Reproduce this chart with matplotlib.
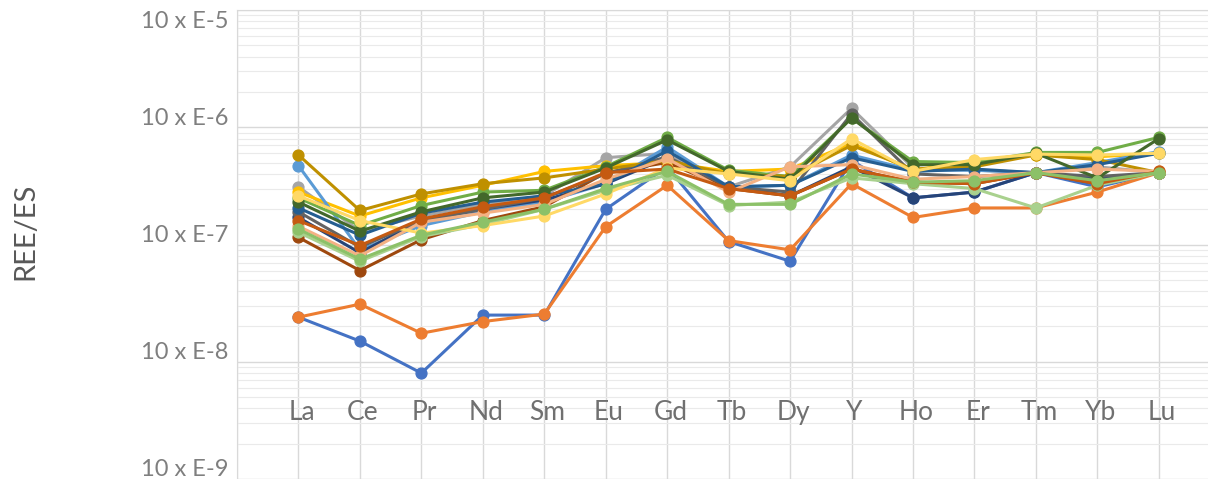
import matplotlib
matplotlib.use("Agg")
import matplotlib.pyplot as plt
import matplotlib.transforms as mtransforms
from matplotlib.ticker import LogLocator, NullFormatter

plt.rcParams['font.family'] = ['Lato', 'DejaVu Sans']

cats = ["La", "Ce", "Pr", "Nd", "Sm", "Eu", "Gd", "Tb", "Dy", "Y", "Ho", "Er", "Tm", "Yb", "Lu"]

# REE/ES per sample
s1 = [2.4e-8, 1.5e-8, 8.0e-9, 2.5e-8, 2.5e-8, 2.0e-7, 4.6e-7, 1.06e-7, 7.2e-8, 5.2e-7, 2.5e-7, 2.8e-7, 4.1e-7, 3.1e-7, 4.1e-7]
s2 = [2.4e-8, 3.1e-8, 1.75e-8, 2.2e-8, 2.55e-8, 1.42e-7, 3.2e-7, 1.08e-7, 9.0e-8, 3.3e-7, 1.7e-7, 2.05e-7, 2.05e-7, 2.8e-7, 4.1e-7]
s3 = [3.1e-7, 1.3e-7, 1.75e-7, 2.2e-7, 2.6e-7, 5.5e-7, 6.0e-7, 3.1e-7, 4.6e-7, 1.45e-6, 4.5e-7, 4.3e-7, 4.1e-7, 4.6e-7, 4.1e-7]
s4 = [2.8e-7, 1.75e-7, 2.5e-7, 3.2e-7, 4.2e-7, 4.7e-7, 5.0e-7, 4.2e-7, 4.4e-7, 7.3e-7, 4.3e-7, 5.2e-7, 5.8e-7, 5.6e-7, 6.0e-7]
s5 = [4.7e-7, 9.0e-8, 1.45e-7, 1.9e-7, 2.3e-7, 3.3e-7, 6.8e-7, 3.1e-7, 3.2e-7, 5.8e-7, 4.3e-7, 4.3e-7, 4.1e-7, 5.0e-7, 6.2e-7]
s6 = [2.5e-7, 1.45e-7, 2.15e-7, 2.8e-7, 2.9e-7, 4.6e-7, 8.2e-7, 4.3e-7, 3.8e-7, 1.2e-6, 5.1e-7, 5.0e-7, 6.1e-7, 6.1e-7, 8.2e-7]
s7 = [1.7e-7, 8.5e-8, 1.6e-7, 2.0e-7, 2.4e-7, 3.3e-7, 5.5e-7, 3.1e-7, 2.6e-7, 4.6e-7, 2.5e-7, 2.8e-7, 4.1e-7, 3.6e-7, 4.1e-7]
s8 = [1.15e-7, 6.0e-8, 1.1e-7, 1.6e-7, 2.1e-7, 4.1e-7, 5.0e-7, 3.0e-7, 2.6e-7, 4.4e-7, 3.4e-7, 3.3e-7, 4.1e-7, 3.3e-7, 4.1e-7]
s9 = [1.9e-7, 9.5e-8, 1.6e-7, 2.0e-7, 2.5e-7, 4.0e-7, 5.6e-7, 3.1e-7, 2.8e-7, 1.3e-6, 4.0e-7, 3.8e-7, 4.1e-7, 3.8e-7, 4.1e-7]
s10 = [5.8e-7, 1.95e-7, 2.7e-7, 3.3e-7, 3.7e-7, 4.4e-7, 5.2e-7, 4.0e-7, 3.8e-7, 7.0e-7, 4.4e-7, 4.6e-7, 5.8e-7, 5.3e-7, 4.1e-7]
s11 = [2.05e-7, 1.2e-7, 1.85e-7, 2.3e-7, 2.6e-7, 3.3e-7, 6.3e-7, 3.1e-7, 3.2e-7, 5.5e-7, 4.2e-7, 4.4e-7, 4.1e-7, 4.8e-7, 6.0e-7]
s12 = [2.3e-7, 1.3e-7, 1.9e-7, 2.5e-7, 2.8e-7, 4.5e-7, 7.8e-7, 4.2e-7, 3.6e-7, 1.2e-6, 4.8e-7, 4.8e-7, 6.0e-7, 3.7e-7, 8.0e-7]
s13 = [1.43e-7, 8.0e-8, 1.55e-7, 1.85e-7, 2.2e-7, 3.6e-7, 5.4e-7, 2.8e-7, 4.6e-7, 4.8e-7, 3.6e-7, 3.8e-7, 4.1e-7, 4.4e-7, 4.2e-7]
s14 = [1.27e-7, 7.2e-8, 1.17e-7, 1.48e-7, 2.0e-7, 2.9e-7, 3.9e-7, 2.15e-7, 2.3e-7, 3.7e-7, 3.3e-7, 3.0e-7, 2.05e-7, 3.2e-7, 4.1e-7]
s15 = [2.6e-7, 1.6e-7, 1.25e-7, 1.45e-7, 1.75e-7, 2.7e-7, 4.5e-7, 4.0e-7, 3.5e-7, 8.0e-7, 4.2e-7, 5.3e-7, 5.9e-7, 5.8e-7, 6.0e-7]
s16 = [1.6e-7, 9.8e-8, 1.65e-7, 2.1e-7, 2.5e-7, 4.1e-7, 4.4e-7, 3.0e-7, 2.6e-7, 4.4e-7, 3.4e-7, 3.3e-7, 4.1e-7, 3.3e-7, 4.2e-7]
s17 = [1.35e-7, 7.5e-8, 1.2e-7, 1.55e-7, 2.0e-7, 3.0e-7, 4.2e-7, 2.2e-7, 2.2e-7, 4.0e-7, 3.4e-7, 3.5e-7, 4.1e-7, 3.5e-7, 4.1e-7]

series = [s1, s2, s3, s4, s5, s6, s7, s8, s9, s10, s11, s12, s13, s14, s15, s16, s17]
colors = ["#4472C4", "#ED7D31", "#A5A5A5", "#FFC000", "#5B9BD5", "#70AD47",
          "#264478", "#9E480E", "#636363", "#BF9000", "#255E91", "#43682B",
          "#F4B183", "#A9D18E", "#FFD966", "#C55A11", "#8CC168"]

ytick_vals = [1e-9, 1e-8, 1e-7, 1e-6, 1e-5]
ytick_labels = ["10 x E-9", "10 x E-8", "10 x E-7", "10 x E-6", "10 x E-5"]

fig = plt.figure(figsize=(12.08, 4.79), dpi=100)
ax = fig.add_axes([237/1208, 0.0, 1 - 237/1208, 1 - 10/479])

x = list(range(len(cats)))
for vals, c in zip(series, colors):
    ax.plot(x, vals, '-o', color=c, lw=2.2, ms=7.8, mec=c, mfc=c)

ax.set_yscale('log')
ax.set_ylim(1e-9, 1e-5)
ax.set_xlim(-1, 14.8)

ax.set_yticks(ytick_vals)
ax.set_yticklabels(ytick_labels)
ax.yaxis.set_minor_locator(LogLocator(base=10, subs=range(2, 10), numticks=20))
ax.yaxis.set_minor_formatter(NullFormatter())
ax.set_xticks(range(-1, 15))
ax.set_xticklabels([])
ax.tick_params(which='both', length=0)
ax.tick_params(axis='y', labelsize=17, labelcolor='#7F7F7F', pad=6)

# shift the y labels a bit upwards like the original
up = mtransforms.ScaledTranslation(0, 11/100, fig.dpi_scale_trans)
down = mtransforms.ScaledTranslation(0, -10/100, fig.dpi_scale_trans)
for i, lab in enumerate(ax.get_yticklabels()):
    lab.set_transform(lab.get_transform() + (down if i == len(ytick_vals) - 1 else up))

ax.grid(which='major', color='#D9D9D9', lw=1.0)
ax.grid(which='minor', axis='y', color='#EAEAEA', lw=0.8)
ax.set_axisbelow(True)

for side in ['right', 'bottom']:
    ax.spines[side].set_visible(False)
for side in ['left', 'top']:
    ax.spines[side].set_color('#D9D9D9')

# category names sit inside the plot area
for i, name in enumerate(cats):
    ax.text(i + 0.05, 3.66e-9, name, ha='center', va='center', fontsize=19, color='#707070')

fig.text(25/1208, 1 - 231/479, "REE/ES", rotation=90, ha='center', va='center',
         fontsize=21, color='#595959')

fig.savefig("out.png", dpi=100)
